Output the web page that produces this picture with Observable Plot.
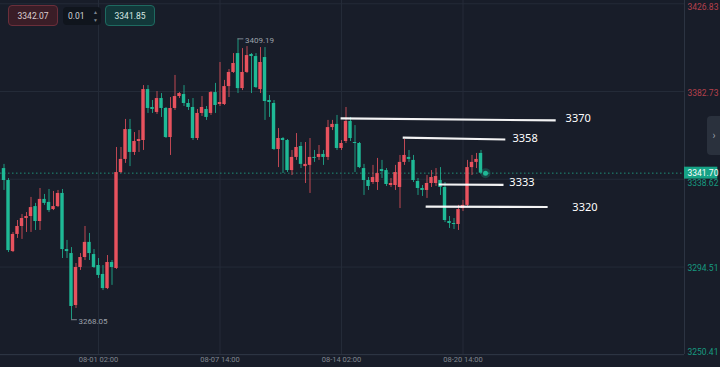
<!DOCTYPE html>
<html>
<head>
<meta charset="utf-8">
<script src="https://cdn.jsdelivr.net/npm/d3@7"></script>
<script src="https://cdn.jsdelivr.net/npm/@observablehq/plot@0.6"></script>
<style>
  html, body { margin: 0; padding: 0; background: #181d29; }
  #wrap { position: relative; width: 720px; height: 367px; overflow: hidden; font-family: Roboto, "Noto Sans", sans-serif; }
  .box { position: absolute; box-sizing: border-box; border-radius: 4px; font-size: 8.5px; display: flex; align-items: center; justify-content: center; }
  #b1 { left: 8px; top: 5px; width: 50px; height: 21px; background: #3a1d27; border: 1px solid #6b2e3a; color: #dccfd2; }
  #b2 { left: 63px; top: 7px; width: 38px; height: 18px; background: #10151d; color: #cfd3d8; justify-content: flex-start; padding-left: 5px; }
  #b3 { left: 105px; top: 5px; width: 50px; height: 21px; background: #12383a; border: 1px solid #1e6a60; color: #d6e8e4; }
  .spin { position: absolute; left: 93px; font-size: 5px; color: #7d848e; }
  #tab { position: absolute; left: 707px; top: 116px; width: 14px; height: 39px; background: #2a313d; border-radius: 4px 0 0 4px; color: #9aa1ab; font-size: 10px; display: flex; align-items: center; justify-content: center; }
</style>
</head>
<body>
<div id="wrap">
  <div id="chart"></div>
  <div class="box" id="b1">3342.07</div>
  <div class="box" id="b2">0.01</div>
  <div class="spin" style="top:9px">▲</div>
  <div class="spin" style="top:17px">▼</div>
  <div class="box" id="b3">3341.85</div>
  <div id="tab">›</div>
</div>
<script>
// 4-hour candles (index = candle number), prices in USD
const opens  = [3344.0,3338.0,3302.3,3310.9,3314.9,3318.9,3319.9,3324.9,3317.4,3328.5,3327.0,3323.4,3324.9,3331.5,3303.3,3301.3,3275.2,3294.3,3299.3,3306.9,3300.8,3295.3,3290.8,3283.7,3296.8,3293.8,3342.0,3348.6,3363.6,3352.1,3357.6,3358.1,3383.7,3374.7,3372.2,3379.2,3374.2,3359.6,3374.2,3380.2,3381.2,3376.7,3374.7,3359.1,3371.7,3373.7,3371.7,3382.2,3376.2,3376.2,3385.2,3392.3,3401.8,3384.2,3392.3,3401.3,3400.3,3383.7,3399.8,3378.2,3376.7,3353.6,3359.1,3358.1,3343.0,3349.6,3355.1,3345.0,3345.6,3349.6,3349.6,3351.1,3349.6,3364.6,3366.2,3354.1,3357.6,3367.7,3357.1,3356.6,3344.0,3338.0,3337.0,3337.0,3343.5,3343.0,3335.5,3335.5,3334.5,3347.1,3349.6,3348.1,3337.5,3334.0,3333.0,3336.5,3336.5,3338.0,3334.5,3317.4,3316.4,3315.9,3323.9,3325.5,3344.5,3347.1,3351.6];
const closes = [3338.0,3302.8,3310.9,3314.9,3318.9,3319.9,3324.4,3317.4,3328.5,3326.5,3322.9,3324.9,3331.5,3303.3,3302.3,3274.7,3294.3,3299.3,3306.9,3301.3,3294.3,3290.3,3283.7,3296.8,3294.3,3342.0,3348.6,3363.6,3352.1,3357.6,3358.6,3383.7,3374.2,3373.7,3379.2,3374.2,3359.6,3374.2,3380.2,3381.7,3376.7,3374.7,3359.1,3371.7,3374.7,3369.7,3382.2,3375.7,3377.2,3385.2,3392.3,3396.8,3384.2,3392.3,3400.8,3400.3,3384.7,3397.3,3377.7,3377.2,3353.6,3359.1,3358.1,3343.0,3349.6,3354.6,3346.1,3346.1,3349.6,3349.1,3351.1,3349.6,3364.6,3366.2,3354.1,3356.6,3367.7,3359.1,3356.6,3344.5,3338.0,3335.0,3339.5,3341.5,3342.5,3336.0,3336.5,3342.0,3347.1,3350.6,3348.6,3338.0,3334.0,3333.0,3336.5,3339.5,3340.0,3334.5,3317.9,3316.4,3315.9,3323.4,3325.5,3344.5,3347.1,3348.6,3341.7];
const highs  = [3346.1,3339.0,3311.9,3317.9,3320.9,3321.9,3329.5,3326.5,3334.0,3331.0,3333.5,3332.5,3333.0,3333.5,3307.9,3304.3,3296.3,3301.3,3314.9,3311.4,3303.3,3298.8,3295.3,3300.3,3297.8,3354.6,3354.6,3368.7,3368.7,3362.1,3363.1,3385.7,3385.7,3378.2,3382.7,3381.7,3374.7,3379.7,3390.8,3382.2,3385.7,3378.7,3379.2,3373.7,3380.2,3375.2,3382.7,3386.8,3397.3,3388.3,3393.8,3401.8,3409.19,3404.3,3405.3,3401.8,3401.8,3404.8,3404.8,3380.7,3378.2,3364.1,3359.6,3358.6,3353.1,3361.6,3357.1,3357.1,3359.1,3353.1,3355.6,3353.1,3368.2,3368.2,3370.7,3358.1,3374.7,3369.7,3365.6,3357.1,3346.1,3339.5,3345.6,3349.1,3348.1,3344.0,3339.0,3345.6,3350.6,3358.6,3353.1,3350.6,3339.0,3335.5,3340.5,3343.0,3344.0,3344.5,3337.0,3319.9,3318.9,3325.5,3328.0,3348.1,3350.6,3351.6,3353.1];
const lows   = [3333.0,3301.8,3301.8,3308.9,3308.4,3311.9,3311.9,3312.9,3312.9,3325.5,3321.9,3322.9,3324.4,3298.8,3298.8,3268.05,3273.7,3292.8,3297.8,3297.8,3293.8,3288.8,3282.7,3283.2,3285.3,3293.3,3341.5,3346.6,3345.0,3350.6,3352.1,3353.1,3371.7,3371.7,3371.2,3369.7,3359.1,3350.6,3373.2,3379.2,3375.2,3373.2,3358.1,3358.1,3370.2,3368.2,3370.7,3371.7,3375.2,3375.7,3379.7,3391.8,3381.7,3383.2,3391.8,3381.7,3384.2,3381.7,3368.2,3369.7,3353.1,3344.5,3341.5,3342.0,3340.5,3348.1,3344.0,3336.5,3331.5,3347.1,3348.1,3345.6,3348.1,3363.1,3353.1,3353.1,3356.6,3357.6,3342.0,3344.0,3330.5,3333.0,3336.0,3333.0,3339.0,3335.0,3334.5,3333.0,3323.9,3345.6,3347.1,3337.0,3330.5,3330.0,3329.0,3334.5,3335.0,3330.5,3316.9,3313.9,3313.4,3312.9,3322.4,3324.9,3340.5,3344.0,3341.5];

// axes
const yTicks = [3426.83, 3382.73, 3338.62, 3294.51, 3250.41];
const xTickIndex = [21, 48, 75, 102];
const xTickLabels = ["08-01 02:00", "08-07 14:00", "08-14 02:00", "08-20 14:00"];
const currentPrice = 3341.70;
const lastIndex = 107;

// extreme markers
const extremeIndex = [52, 15];
const extremePrice = [3409.19, 3268.05];

// hand-drawn annotation lines
const annLabels = ["3370", "3358", "3333", "3320"];
const annStartIndex = [74.8, 88.6, 96.6, 93.7];
const annEndIndex = [122.6, 111.4, 111.0, 120.8];
const annStartPrice = [3369.2, 3359.6, 3336.0, 3324.9];
const annEndPrice = [3368.2, 3358.6, 3335.8, 3324.7];
const annTextIndex = [124.8, 113.0, 112.3, 126.3];
const annTextPrice = [3369.2, 3359.1, 3337.0, 3324.4];

const RED = "#e8525e", GREEN = "#1fb996";
const candles = opens.map((o, i) => ({i, o, c: closes[i], h: highs[i], l: lows[i]}));
const col = d => d.c >= d.o ? RED : GREEN;
const ann = annLabels.map((t, k) => ({t, x1: annStartIndex[k], x2: annEndIndex[k], y1: annStartPrice[k], y2: annEndPrice[k], tx: annTextIndex[k], ty: annTextPrice[k]}));
const ext = extremeIndex.map((i, k) => ({i, p: extremePrice[k]}));
const xDomain = [-0.78, 151.22];
const yDomain = [3250.57, 3428.46];
const ticksObj = yTicks.map((v, k) => ({v, k}));
const near = d => Math.abs(d.v - currentPrice) < 5;

const chart = Plot.plot({
  width: 720, height: 367,
  marginLeft: 0, marginRight: 36, marginTop: 0, marginBottom: 13,
  style: {background: "#181d29", fontFamily: "Roboto, 'Noto Sans', sans-serif", overflow: "visible"},
  x: {domain: xDomain, axis: null},
  y: {domain: yDomain, axis: null},
  marks: [
    Plot.ruleY(yTicks, {stroke: "#242b38", strokeWidth: 1}),
    Plot.ruleX(xTickIndex, {stroke: "#242b38", strokeWidth: 1}),
    Plot.ruleX([xDomain[1]], {stroke: "#2c3442", strokeWidth: 1}),
    Plot.ruleY([yDomain[0]], {stroke: "#2c3442", strokeWidth: 1}),
    // current price dotted line
    Plot.ruleY([currentPrice], {stroke: "#1f8f78", strokeDasharray: "1.5,2.5", strokeWidth: 1}),
    // wicks
    Plot.ruleX(candles, {x: "i", y1: "l", y2: "h", stroke: col, strokeWidth: 1, strokeOpacity: 0.8}),
    // bodies
    Plot.rect(candles, {x1: d => d.i - 0.38, x2: d => d.i + 0.38, y1: d => Math.min(d.o, d.c), y2: d => Math.max(d.o, d.c), fill: col}),
    // extreme markers
    Plot.ruleY(ext, {y: "p", x1: "i", x2: d => d.i + 1.3, stroke: "#7d848e", strokeWidth: 1}),
    Plot.text(ext, {x: "i", y: "p", text: d => d.p.toFixed(2), dx: 7, dy: 1.5, textAnchor: "start", fill: "#9ca1a9", fontSize: 8}),
    // right axis labels
    Plot.text(ticksObj.filter(d => d.k === 0), {y: "v", text: d => d.v.toFixed(2), frameAnchor: "right", dx: 3, textAnchor: "start", lineAnchor: "top", fill: "#b5404c", fontSize: 8.5}),
    Plot.text(ticksObj.filter(d => d.k > 0 && d.k < yTicks.length - 1 && !near(d)), {y: "v", text: d => d.v.toFixed(2), frameAnchor: "right", dx: 3, dy: 1.5, textAnchor: "start", fill: d => d.v > currentPrice ? "#b5404c" : "#179a80", fontSize: 8.5}),
    Plot.text(ticksObj.filter(d => near(d)), {y: "v", text: d => d.v.toFixed(2), frameAnchor: "right", dx: 3, dy: 4, textAnchor: "start", fill: "#179a80", fontSize: 8.5}),
    Plot.text(ticksObj.filter(d => d.k === yTicks.length - 1), {y: "v", text: d => d.v.toFixed(2), frameAnchor: "right", dx: 3, textAnchor: "start", lineAnchor: "bottom", fill: "#179a80", fontSize: 8.5}),
    // current price box
    Plot.rect([currentPrice], {x1: xDomain[1], x2: xDomain[1] + 7.4, y1: d => d - 3.0, y2: d => d + 3.0, fill: "#17a386"}),
    Plot.text([currentPrice], {y: d => d, text: d => d.toFixed(2), frameAnchor: "right", dx: 3, textAnchor: "start", fill: "#ffffff", fontSize: 8.5}),
    // glow dot
    Plot.dot([currentPrice], {x: lastIndex, y: d => d, r: 5, fill: GREEN, fillOpacity: 0.25, stroke: "none"}),
    Plot.dot([currentPrice], {x: lastIndex, y: d => d, r: 2.5, fill: GREEN, stroke: "none"}),
    // x axis labels
    Plot.text(xTickIndex, {x: d => d, text: (d, k) => xTickLabels[k], frameAnchor: "bottom", dy: 7, fill: "#80868f", fontSize: 7.5}),
    // hand-drawn annotation lines
    Plot.link(ann, {x1: "x1", x2: "x2", y1: "y1", y2: "y2", stroke: "#ffffff", strokeWidth: 2.2, strokeOpacity: 0.95}),
    Plot.text(ann, {x: "tx", y: "ty", text: "t", textAnchor: "start", fill: "#ffffff", fontSize: 11, fontFamily: "'Noto Sans', sans-serif"})
  ]
});
document.getElementById("chart").appendChild(chart);
</script>
</body>
</html>
